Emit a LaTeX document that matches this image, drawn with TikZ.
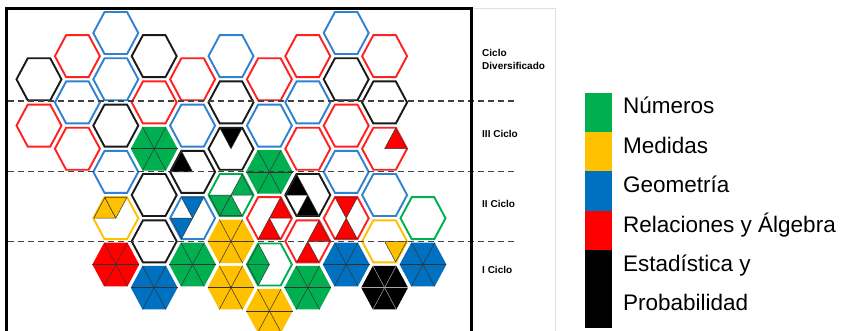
\documentclass[tikz,border=0pt]{standalone}
\usepackage{fontspec}
\setmainfont{Liberation Sans}
\definecolor{fG}{HTML}{00B050}
\definecolor{fY}{HTML}{FFC000}
\definecolor{fB}{HTML}{0070C0}
\definecolor{fR}{HTML}{FF0000}
\definecolor{oB}{HTML}{2F82D2}
\definecolor{oR}{HTML}{FF2020}
\definecolor{oK}{HTML}{1A1A1A}
\definecolor{oG}{HTML}{00B050}
\definecolor{oY}{HTML}{FFC000}
\newcommand\hx[1]{(39+38.4*#1)}
\newcommand\hy[1]{(33+23.15*#1)}
% outline hexagon: col, row, colour
\newcommand\hexo[3]{%
  \draw[#3, line width=1.9, line join=miter]
    ({\hx{#1}+22.5},{\hy{#2}})
    \foreach \k in {1,...,5}{ -- ({\hx{#1}+22.5*cos(60*\k)},{\hy{#2}-24.25*sin(60*\k)}) } -- cycle;}
% filled hexagon: col, row, colour, line colour
\newcommand\hexf[4]{%
  \fill[#3]
    ({\hx{#1}+23.4},{\hy{#2}})
    \foreach \k in {1,...,5}{ -- ({\hx{#1}+23.4*cos(60*\k)},{\hy{#2}-25.2*sin(60*\k)}) } -- cycle;
  \foreach \k in {0,1,2}{
    \draw[#4, line width=0.5]
      ({\hx{#1}+23.4*cos(60*\k)},{\hy{#2}-25.2*sin(60*\k)}) --
      ({\hx{#1}-23.4*cos(60*\k)},{\hy{#2}+25.2*sin(60*\k)});}}
% one triangle of a hexagon: col, row, index, colour
\newcommand\tri[4]{%
  \filldraw[fill=#4, draw=black!80, line width=0.5, line join=round]
    ({\hx{#1}},{\hy{#2}}) --
    ({\hx{#1}+22*cos(60*#3)},{\hy{#2}-23.7*sin(60*#3)}) --
    ({\hx{#1}+22*cos(60*(#3+1))},{\hy{#2}-23.7*sin(60*(#3+1))}) -- cycle;}
\tikzset{
  dashline/.style={line width=1.1, black!75, dash pattern=on 6pt off 4pt},
  ciclo/.style={anchor=base west, inner sep=0, font=\fontsize{10}{12}\selectfont\bfseries},
  legtext/.style={anchor=base west, inner sep=0, font=\fontsize{22.5}{26}\selectfont},
}
\begin{document}
\begin{tikzpicture}[x=1pt,y=-1pt]
\useasboundingbox (0,0) rectangle (847,331);
\fill[white] (0,0) rectangle (847,331);

% outline hexagons
\foreach \c/\j/\col in {2/0/oB, 8/0/oB,
  1/1/oR, 3/1/oK, 5/1/oB, 7/1/oR, 9/1/oR,
  0/2/oK, 2/2/oB, 4/2/oR, 6/2/oR, 8/2/oK,
  1/3/oB, 3/3/oR, 5/3/oK, 7/3/oB, 9/3/oK,
  0/4/oR, 2/4/oK, 4/4/oB, 6/4/oB, 8/4/oR,
  1/5/oR, 5/5/oK, 7/5/oR, 9/5/oR,
  2/6/oB, 4/6/oK, 8/6/oB,
  3/7/oK, 5/7/oG, 7/7/oK, 9/7/oB,
  2/8/oY, 4/8/oB, 6/8/oR, 8/8/oR, 10/8/oG,
  3/9/oK, 7/9/oR, 9/9/oY,
  6/10/oG}{\hexo{\c}{\j}{\col}}

% filled hexagons
\foreach \c/\j/\col in {3/5/fG, 6/6/fG, 5/9/fY, 5/11/fY, 6/12/fY,
  2/10/fR, 3/11/fB, 4/10/fG, 7/11/fG, 8/10/fB, 10/10/fB}{\hexf{\c}{\j}{\col}{black!80}}
\hexf{9}{11}{black}{gray!70}

% partly filled hexagons
\tri{5}{5}{1}{black}
\tri{9}{5}{0}{fR}
\tri{4}{6}{2}{black}
\tri{5}{7}{0}{fG}\tri{5}{7}{3}{fG}\tri{5}{7}{4}{fG}
\tri{7}{7}{2}{black}\tri{7}{7}{4}{black}
\tri{2}{8}{1}{fY}\tri{2}{8}{2}{fY}
\tri{4}{8}{1}{fB}\tri{4}{8}{3}{fB}
\tri{6}{8}{0}{fR}\tri{6}{8}{4}{fR}
\tri{8}{8}{1}{fR}\tri{8}{8}{4}{fR}
\tri{7}{9}{0}{fR}\tri{7}{9}{4}{fR}
\tri{9}{9}{5}{fY}
\tri{6}{10}{2}{fG}\tri{6}{10}{3}{fG}

% dashed level lines
\draw[dashline] (8,101) -- (517,101);
\draw[dashline] (8,171.3) -- (517,171.3);
\draw[dashline] (8,241.3) -- (517,241.3);

% frames
\draw[gray!25, line width=0.8] (473,8) -- (555.5,8) -- (555.5,331);
\draw[line width=3, line cap=butt, line join=miter] (6.5,331) -- (6.5,8.5) -- (471.5,8.5) -- (471.5,331);

% cycle labels
\node[ciclo] (cd1) at (482,56.5) {Ciclo};
\node[ciclo] (cd2) at (482,69.5) {Diversificado};
\node[ciclo] (c3) at (482,137.3) {III Ciclo};
\node[ciclo] (c2) at (482,207.3) {II Ciclo};
\node[ciclo] (c1) at (482,274) {I Ciclo};

% legend
\fill[fG] (585,92.7) rectangle (612,131.7);
\fill[fY] (585,131.7) rectangle (612,171.2);
\fill[fB] (585,171.2) rectangle (612,210.7);
\fill[fR] (585,210.7) rectangle (612,250.5);
\fill[black] (585,250.5) rectangle (612,328.3);
\node[legtext] (l1) at (623,114) {Números};
\node[legtext] (l2) at (623,153.3) {Medidas};
\node[legtext] (l3) at (623,192.8) {Geometría};
\node[legtext] (l4) at (623,232.3) {Relaciones y Álgebra};
\node[legtext] (l5) at (623,271.8) {Estadística y};
\node[legtext] (l6) at (623,310.5) {Probabilidad};
\end{tikzpicture}
\end{document}
